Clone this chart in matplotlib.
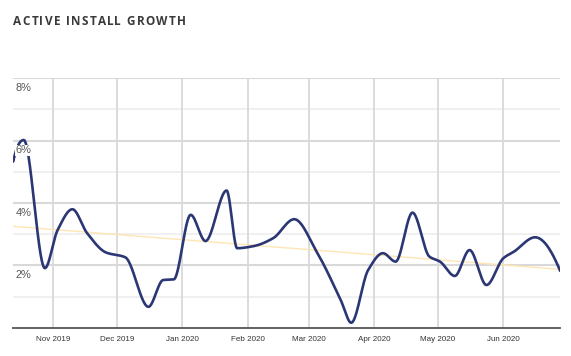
import numpy as np
import matplotlib
matplotlib.use("Agg")
import matplotlib.pyplot as plt
import matplotlib.dates as mdates
import datetime as dt

# ---- data ----
dates = ["2019-10-13", "2019-10-18", "2019-10-28", "2019-11-03", "2019-11-10",
         "2019-11-17", "2019-11-26", "2019-12-05", "2019-12-16", "2019-12-23",
         "2019-12-28", "2020-01-05", "2020-01-12", "2020-01-22", "2020-01-27",
         "2020-02-04", "2020-02-13", "2020-02-23", "2020-03-05", "2020-03-16",
         "2020-03-21", "2020-03-29", "2020-04-05", "2020-04-11", "2020-04-19",
         "2020-04-27", "2020-05-02", "2020-05-09", "2020-05-16", "2020-05-24",
         "2020-06-01", "2020-06-06", "2020-06-16", "2020-06-28"]
growth = [5.33, 6.02, 1.91, 3.13, 3.80,
          3.03, 2.41, 2.26, 0.67, 1.53,
          1.55, 3.62, 2.78, 4.40, 2.55,
          2.62, 2.87, 3.48, 2.39, 0.89,
          0.16, 1.85, 2.39, 2.12, 3.69,
          2.28, 2.12, 1.66, 2.49, 1.37,
          2.23, 2.44, 2.90, 1.80]
trend_dates = ["2019-10-13", "2020-06-28"]
trend_values = [3.25, 1.87]
y_ticks = [2, 4, 6, 8]
y_tick_labels = ["2%", "4%", "6%", "8%"]
month_ticks = ["2019-11-01", "2019-12-01", "2020-01-01", "2020-02-01",
               "2020-03-01", "2020-04-01", "2020-05-01", "2020-06-01"]
month_labels = ["Nov 2019", "Dec 2019", "Jan 2020", "Feb 2020",
                "Mar 2020", "Apr 2020", "May 2020", "Jun 2020"]
title = "ACTIVE INSTALL GROWTH"


def to_num(ds):
    return mdates.date2num([dt.datetime.strptime(d, "%Y-%m-%d") for d in ds])


def pchip(x, y, xs):
    x = np.asarray(x, float); y = np.asarray(y, float)
    n = len(x)
    h = np.diff(x); delta = np.diff(y) / h
    d = np.zeros(n)
    for k in range(1, n - 1):
        if delta[k - 1] * delta[k] > 0:
            w1 = 2 * h[k] + h[k - 1]
            w2 = h[k] + 2 * h[k - 1]
            d[k] = (w1 + w2) / (w1 / delta[k - 1] + w2 / delta[k])
    def endslope(h0, h1, d0, d1):
        s = ((2 * h0 + h1) * d0 - h0 * d1) / (h0 + h1)
        if np.sign(s) != np.sign(d0):
            s = 0
        elif np.sign(d0) != np.sign(d1) and abs(s) > abs(3 * d0):
            s = 3 * d0
        return s
    d[0] = endslope(h[0], h[1], delta[0], delta[1])
    d[-1] = endslope(h[-1], h[-2], delta[-1], delta[-2])
    idx = np.clip(np.searchsorted(x, xs) - 1, 0, n - 2)
    t = (xs - x[idx]) / h[idx]
    h00 = 2 * t**3 - 3 * t**2 + 1
    h10 = t**3 - 2 * t**2 + t
    h01 = -2 * t**3 + 3 * t**2
    h11 = t**3 - t**2
    return h00 * y[idx] + h10 * h[idx] * d[idx] + h01 * y[idx + 1] + h11 * h[idx] * d[idx + 1]


x = to_num(dates)
xs = np.linspace(x[0], x[-1], 2000)
ys = pchip(x, growth, xs)

W, H = 571, 356
fig = plt.figure(figsize=(W / 100, H / 100), dpi=100)
ax = fig.add_axes([13 / W, 1 - 327.7 / H, (560 - 13) / W, (327.7 - 78.3) / H])

nov1 = to_num(["2019-11-01"])[0]
ax.set_xlim(nov1 - 19.1, nov1 + 239.8)
ax.set_ylim(0, 8)

# grid
for v in [1, 3, 5, 7]:
    ax.axhline(v, color="#eeeeee", lw=1.2, zorder=0)
for v in y_ticks:
    ax.axhline(v, color="#d9d9d9", lw=1.5, zorder=0)
for m in to_num(month_ticks):
    ax.axvline(m, color="#d9d9d9", lw=1.3, zorder=0)

ax.plot(to_num(trend_dates), trend_values, color="#fde6b4", lw=1.0, zorder=1)
ax.plot(xs, ys, color="#2b3775", lw=1.9, zorder=2, solid_capstyle="round")

for s in ["top", "right", "left"]:
    ax.spines[s].set_visible(False)
ax.spines["bottom"].set_color("#555555")
ax.spines["bottom"].set_linewidth(1.3)
ax.set_yticks([])
ax.set_xticks(to_num(month_ticks))
ax.set_xticklabels(month_labels, fontsize=5.8, color="#333333", family="Liberation Sans")
ax.tick_params(axis="x", length=0, pad=6)

for v, lab in zip(y_ticks, y_tick_labels):
    ax.text(0.005, v - 0.15, lab, transform=ax.get_yaxis_transform(), ha="left", va="top",
            fontsize=7.9, color="#555555", family="Liberation Sans", zorder=3,
            bbox=dict(facecolor="white", edgecolor="none", pad=0.2))

# title with letter spacing (positions from prefix widths)
fig.canvas.draw()
renderer = fig.canvas.get_renderer()
tprops = dict(fontsize=8.5, color="#3a3a3a", family="Open Sans", fontweight="bold")


def text_w(s):
    t = fig.text(0, 0, s, **tprops)
    w = t.get_window_extent(renderer).width
    t.remove()
    return w


ref_w = text_w("H")
spacing = 1.35
x0 = 13.3
for i, ch in enumerate(title):
    pre = text_w(title[:i] + "H") - ref_w if i > 0 else 0.0
    if ch != " ":
        fig.text((x0 + pre + i * spacing) / W, 1 - 21.7 / H, ch, ha="left", va="center", **tprops)

fig.savefig("out.png", dpi=100)
